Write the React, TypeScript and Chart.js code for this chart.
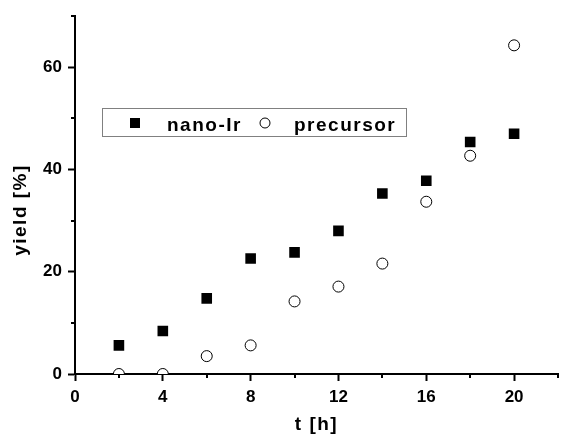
import { useEffect, useRef } from 'react';
import { Chart, registerables } from 'chart.js';

Chart.register(...registerables);

const times = [2, 4, 6, 8, 10, 12, 14, 16, 18, 20];
const nanoIr = [5.6, 8.4, 14.8, 22.6, 23.8, 28.0, 35.3, 37.8, 45.4, 47.0];
const precursor = [0, 0, 3.5, 5.6, 14.2, 17.1, 21.6, 33.7, 42.7, 64.3];
const xTickLabels = [0, 4, 8, 12, 16, 20];
const yTickLabels = [0, 20, 40, 60];
const seriesNames = ['nano-Ir', 'precursor'];
const xTitle = 't [h]';
const yTitle = 'yield [%]';

const FONT = '"Liberation Sans", Arial, sans-serif';

const overlay = {
  id: 'overlay',
  afterDraw(chart: any) {
    const { ctx, chartArea } = chart;
    const x = chart.scales.x;
    const y = chart.scales.y;
    ctx.save();
    // minor ticks
    ctx.strokeStyle = '#000';
    ctx.lineWidth = 2;
    x.ticks.forEach((t: any) => {
      if (!xTickLabels.includes(t.value)) {
        const px = Math.round(x.getPixelForValue(t.value));
        ctx.beginPath();
        ctx.moveTo(px, chartArea.bottom);
        ctx.lineTo(px, chartArea.bottom + 4);
        ctx.stroke();
      }
    });
    y.ticks.forEach((t: any) => {
      if (!yTickLabels.includes(t.value)) {
        const py = Math.round(y.getPixelForValue(t.value));
        ctx.beginPath();
        ctx.moveTo(chartArea.left, py);
        ctx.lineTo(chartArea.left - 4, py);
        ctx.stroke();
      }
    });
    // titles
    ctx.fillStyle = '#000';
    ctx.font = 'bold 19px ' + FONT;
    (ctx as any).letterSpacing = '1.5px';
    ctx.textAlign = 'center';
    ctx.textBaseline = 'alphabetic';
    ctx.fillText(xTitle, (chartArea.left + chartArea.right) / 2, 430);
    ctx.save();
    ctx.translate(26, 210);
    ctx.rotate(-Math.PI / 2);
    ctx.fillText(yTitle, 0, 0);
    ctx.restore();
    // legend
    ctx.strokeStyle = '#808080';
    ctx.lineWidth = 1;
    ctx.strokeRect(102.5, 108.5, 304, 28);
    ctx.fillStyle = '#000';
    ctx.fillRect(130, 118, 10, 10);
    ctx.beginPath();
    ctx.arc(265, 123, 5, 0, Math.PI * 2);
    ctx.fillStyle = '#fff';
    ctx.fill();
    ctx.strokeStyle = '#000';
    ctx.stroke();
    ctx.fillStyle = '#000';
    ctx.textAlign = 'left';
    ctx.fillText(seriesNames[0], 167, 131);
    ctx.fillText(seriesNames[1], 294, 131);
    ctx.restore();
  },
};

export default function App() {
  const ref = useRef<HTMLCanvasElement>(null);
  useEffect(() => {
    if (!ref.current) return;
    const chart = new Chart(ref.current, {
      type: 'scatter',
      data: {
        datasets: [
          {
            label: seriesNames[0],
            data: times.map((t, i) => ({ x: t, y: nanoIr[i] })),
            pointStyle: 'rect',
            pointRadius: 7.5,
            backgroundColor: '#000',
            borderColor: '#000',
            borderWidth: 0,
            clip: 0,
          },
          {
            label: seriesNames[1],
            data: times.map((t, i) => ({ x: t, y: precursor[i] })),
            pointStyle: 'circle',
            pointRadius: 5.5,
            backgroundColor: '#fff',
            borderColor: '#000',
            borderWidth: 1,
            clip: 0,
          },
        ],
      },
      options: {
        animation: false,
        responsive: false,
        layout: { autoPadding: false, padding: { top: 15, right: -4, left: 0, bottom: 0 } },
        plugins: { legend: { display: false }, tooltip: { enabled: false } },
        scales: {
          x: {
            type: 'linear',
            min: 0,
            max: 22,
            afterFit: (s: any) => {
              s.height = 68;
            },
            ticks: {
              stepSize: 2,
              autoSkip: false,
              maxRotation: 0,
              padding: 6,
              color: '#000',
              font: { family: FONT, size: 17, weight: 'bold' },
              callback: (v: any) => (xTickLabels.includes(Number(v)) ? String(v) : ''),
            },
            grid: {
              drawOnChartArea: false,
              drawTicks: true,
              tickLength: 7,
              tickWidth: 2,
              tickColor: (c: any) => (xTickLabels.includes(c.tick?.value) ? '#000' : 'rgba(0,0,0,0)'),
            },
            border: { display: true, color: '#000', width: 2 },
          },
          y: {
            type: 'linear',
            min: 0,
            max: 70,
            afterFit: (s: any) => {
              s.width = 75;
            },
            ticks: {
              stepSize: 10,
              autoSkip: false,
              padding: 6,
              color: '#000',
              font: { family: FONT, size: 17, weight: 'bold' },
              callback: (v: any) => (yTickLabels.includes(Number(v)) ? String(v) : ''),
            },
            grid: {
              drawOnChartArea: false,
              drawTicks: true,
              tickLength: 7,
              tickWidth: 2,
              tickColor: (c: any) => (yTickLabels.includes(c.tick?.value) ? '#000' : 'rgba(0,0,0,0)'),
            },
            border: { display: true, color: '#000', width: 2 },
          },
        },
      },
      plugins: [overlay],
    });
    return () => chart.destroy();
  }, []);
  return (
    <div style={{ position: 'absolute', left: 0, top: 0, width: 564, height: 442, background: '#fff' }}>
      <canvas ref={ref} width={564} height={442} />
    </div>
  );
}
